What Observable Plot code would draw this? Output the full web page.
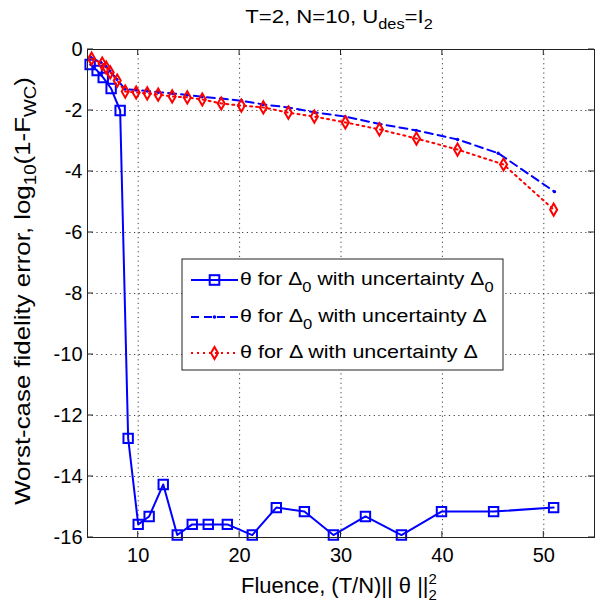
<!DOCTYPE html>
<html><head><meta charset="utf-8">
<script src="https://cdn.jsdelivr.net/npm/d3@7"></script>
<script src="https://cdn.jsdelivr.net/npm/@observablehq/plot@0.6"></script>
<style>body{margin:0;background:#fff} #chart svg{font-family:"Liberation Sans",Arial,sans-serif}</style>
</head><body><div id="chart"></div>
<script>
// Series 1: theta for Delta0 with uncertainty Delta0 (squares, solid)
const sqX = [5.26,5.95,6.55,7.33,8.22,9.01,10.0,11.08,12.47,13.85,15.33,16.91,18.79,21.25,23.62,26.39,29.25,32.41,35.96,39.91,45.05,50.97];
const sqY = [-0.49,-0.69,-0.92,-1.28,-2.0,-12.75,-15.57,-15.31,-14.26,-15.92,-15.57,-15.57,-15.57,-15.92,-15.02,-15.15,-15.92,-15.31,-15.92,-15.15,-15.15,-15.02];
// Series 2: theta for Delta0 with uncertainty Delta (dashed, dots)
const blX = [5.3,6.3,6.8,7.2,7.9,8.7,9.8,10.9,12.0,13.4,14.8,16.3,18.2,20.2,22.3,24.8,27.4,30.4,33.8,37.4,41.5,45.5,51.05];
const blY = [-0.25,-0.42,-0.55,-0.7,-0.98,-1.3,-1.33,-1.36,-1.4,-1.44,-1.49,-1.55,-1.61,-1.68,-1.8,-1.9,-2.06,-2.2,-2.44,-2.65,-2.95,-3.4,-4.66];
// Series 3: theta for Delta with uncertainty Delta (dotted, diamonds)
const rdX = [5.4,6.45,6.84,7.24,7.93,8.72,9.80,10.89,11.97,13.35,14.84,16.32,18.19,20.17,22.34,24.81,27.37,30.43,33.79,37.44,41.49,46.03,50.97];
const rdY = [-0.3,-0.46,-0.59,-0.75,-1.02,-1.38,-1.41,-1.44,-1.48,-1.54,-1.57,-1.64,-1.77,-1.84,-1.90,-2.07,-2.20,-2.39,-2.62,-2.92,-3.28,-3.77,-5.25];
const xTicks = [10,20,30,40,50];
const yTicks = [-16,-14,-12,-10,-8,-6,-4,-2,0];
const xGrid = [10,20,30,40,50];
const yGrid = [-14,-12,-10,-8,-6,-4,-2];

const s1 = sqX.map((x,i)=>({x, y: sqY[i]}));
const s2 = blX.map((x,i)=>({x, y: blY[i]}));
const s3 = rdX.map((x,i)=>({x, y: rdY[i]}));

const BLUE = "#0000ff", RED = "#ff0000";
const plot = Plot.plot({
  width: 607, height: 610,
  marginLeft: 87, marginRight: 13, marginTop: 49, marginBottom: 73,
  style: {fontFamily: "Liberation Sans, Arial, sans-serif", fontSize: "20px", background: "white", color: "black", overflow: "visible"},
  x: {domain: [5, 55]},
  y: {domain: [-16, 0]},
  marks: [
    Plot.gridX(xGrid, {stroke: "#000", strokeOpacity: 0.75, strokeDasharray: "1.2,3.5", strokeWidth: 1}),
    Plot.gridY(yGrid, {stroke: "#000", strokeOpacity: 0.75, strokeDasharray: "1.2,3.5", strokeWidth: 1}),
    Plot.axisX(xTicks, {tickSize: 0, tickPadding: 10, label: null, fontSize: 20, tickFormat: d => String(d)}),
    Plot.axisY(yTicks, {tickSize: 0, tickPadding: 5, label: null, fontSize: 20, tickFormat: d => String(d)}),
    Plot.line(s1, {x: "x", y: "y", stroke: BLUE, strokeWidth: 2}),
    Plot.dot(s1, {x: "x", y: "y", symbol: "square", r: 5.3, stroke: BLUE, strokeWidth: 2, fill: "none"}),
    Plot.line(s2, {x: "x", y: "y", stroke: BLUE, strokeWidth: 2, strokeDasharray: "8,5"}),
    Plot.dot(s2, {x: "x", y: "y", r: 1.7, fill: BLUE, stroke: "none"}),
    Plot.line(s3, {x: "x", y: "y", stroke: RED, strokeWidth: 2, strokeDasharray: "2,4"}),
    Plot.dot(s3, {x: "x", y: "y", symbol: "diamond", r: 3.7, stroke: RED, strokeWidth: 2, fill: "none"}),
    Plot.frame({stroke: "#222", strokeWidth: 1})
  ]
});
document.getElementById("chart").append(plot);

const svg = d3.select(plot);
const sx = plot.scale("x"), sy = plot.scale("y");
const L = 87, R = 594, T = 49, B = 537;
const tg = svg.append("g").attr("stroke", "#222").attr("stroke-width", 1);
xTicks.forEach(v => {
  const px = sx.apply(v);
  tg.append("line").attr("x1", px).attr("x2", px).attr("y1", B).attr("y2", B - 6);
  tg.append("line").attr("x1", px).attr("x2", px).attr("y1", T).attr("y2", T + 6);
});
yTicks.forEach(v => {
  const py = sy.apply(v);
  tg.append("line").attr("x1", L).attr("x2", L + 6).attr("y1", py).attr("y2", py);
  tg.append("line").attr("x1", R).attr("x2", R - 6).attr("y1", py).attr("y2", py);
});

// horizontal fit of a text to a measured width, about anchor ax
function fitX(sel, target, ax) {
  const w = sel.node().getBBox().width;
  const k = w > 0 ? target / w : 1;
  sel.attr("transform", `translate(${ax},0) scale(${k},1) translate(${-ax},0)`);
}

// Title
const title = svg.append("text").attr("x", 339).attr("y", 23).attr("text-anchor", "middle").attr("font-size", 19).attr("fill", "black");
title.append("tspan").text("T=2, N=10, U");
title.append("tspan").attr("font-size", 14).attr("dy", 6).text("des");
title.append("tspan").attr("dy", -6).text("=I");
title.append("tspan").attr("font-size", 14).attr("dy", 6).text("2");
fitX(title, 188, 339);

// X label
const xl = svg.append("text").attr("x", 339).attr("y", 593).attr("text-anchor", "middle").attr("font-size", 22).attr("fill", "black");
xl.append("tspan").text("Fluence, (T/N)|| θ ||");
xl.append("tspan").attr("font-size", 15).attr("dy", -9).text("2");
xl.append("tspan").attr("font-size", 15).attr("dx", -8.3).attr("dy", 16).text("2");
fitX(xl, 196, 339);

// Y label
const yl = svg.append("text").attr("x", 0).attr("y", 0).attr("text-anchor", "middle").attr("font-size", 22).attr("fill", "black");
yl.append("tspan").text("Worst-case fidelity error, log");
yl.append("tspan").attr("font-size", 16).attr("dy", 6).text("10");
yl.append("tspan").attr("dy", -6).text("(1-F");
yl.append("tspan").attr("font-size", 16).attr("dy", 6).text("WC");
yl.append("tspan").attr("dy", -6).text(")");
const ylw = yl.node().getBBox().width;
yl.attr("transform", `translate(30,291) rotate(-90) scale(${428 / ylw},1)`);

// Legend
const lg = svg.append("g");
lg.append("rect").attr("x", 182).attr("y", 259).attr("width", 321).attr("height", 111).attr("fill", "white").attr("stroke", "#222").attr("stroke-width", 1);
const rows = [
  {y: 280, dash: null, marker: "square", w: 254, label: [["θ for Δ"],["0","sub"],[" with uncertainty Δ"],["0","sub"]], color: BLUE},
  {y: 317, dash: "8,5", marker: "dot", w: 247, label: [["θ for Δ"],["0","sub"],[" with uncertainty Δ"]], color: BLUE},
  {y: 353, dash: "2,4", marker: "diamond", w: 238, label: [["θ for Δ with uncertainty Δ"]], color: RED}
];
rows.forEach(r => {
  lg.append("line").attr("x1", 191).attr("x2", 238).attr("y1", r.y).attr("y2", r.y).attr("stroke", r.color).attr("stroke-width", 2).attr("stroke-dasharray", r.dash);
  if (r.marker === "square") lg.append("rect").attr("x", 214.5 - 4.8).attr("y", r.y - 4.8).attr("width", 9.6).attr("height", 9.6).attr("fill", "none").attr("stroke", r.color).attr("stroke-width", 2);
  if (r.marker === "dot") lg.append("circle").attr("cx", 214.5).attr("cy", r.y).attr("r", 1.8).attr("fill", r.color);
  if (r.marker === "diamond") lg.append("path").attr("d", `M214.5,${r.y-6}L218,${r.y}L214.5,${r.y+6}L211,${r.y}Z`).attr("fill", "none").attr("stroke", r.color).attr("stroke-width", 2);
  const t = lg.append("text").attr("x", 240).attr("y", r.y + 5).attr("text-anchor", "start").attr("font-size", 18).attr("fill", "black");
  let shifted = false;
  r.label.forEach(([s, k]) => {
    const sp = t.append("tspan").text(s);
    if (k === "sub") { sp.attr("font-size", 14).attr("dy", 7); shifted = true; }
    else if (shifted) { sp.attr("dy", -7); shifted = false; }
  });
  fitX(t, r.w, 240);
});
</script>
</body></html>
